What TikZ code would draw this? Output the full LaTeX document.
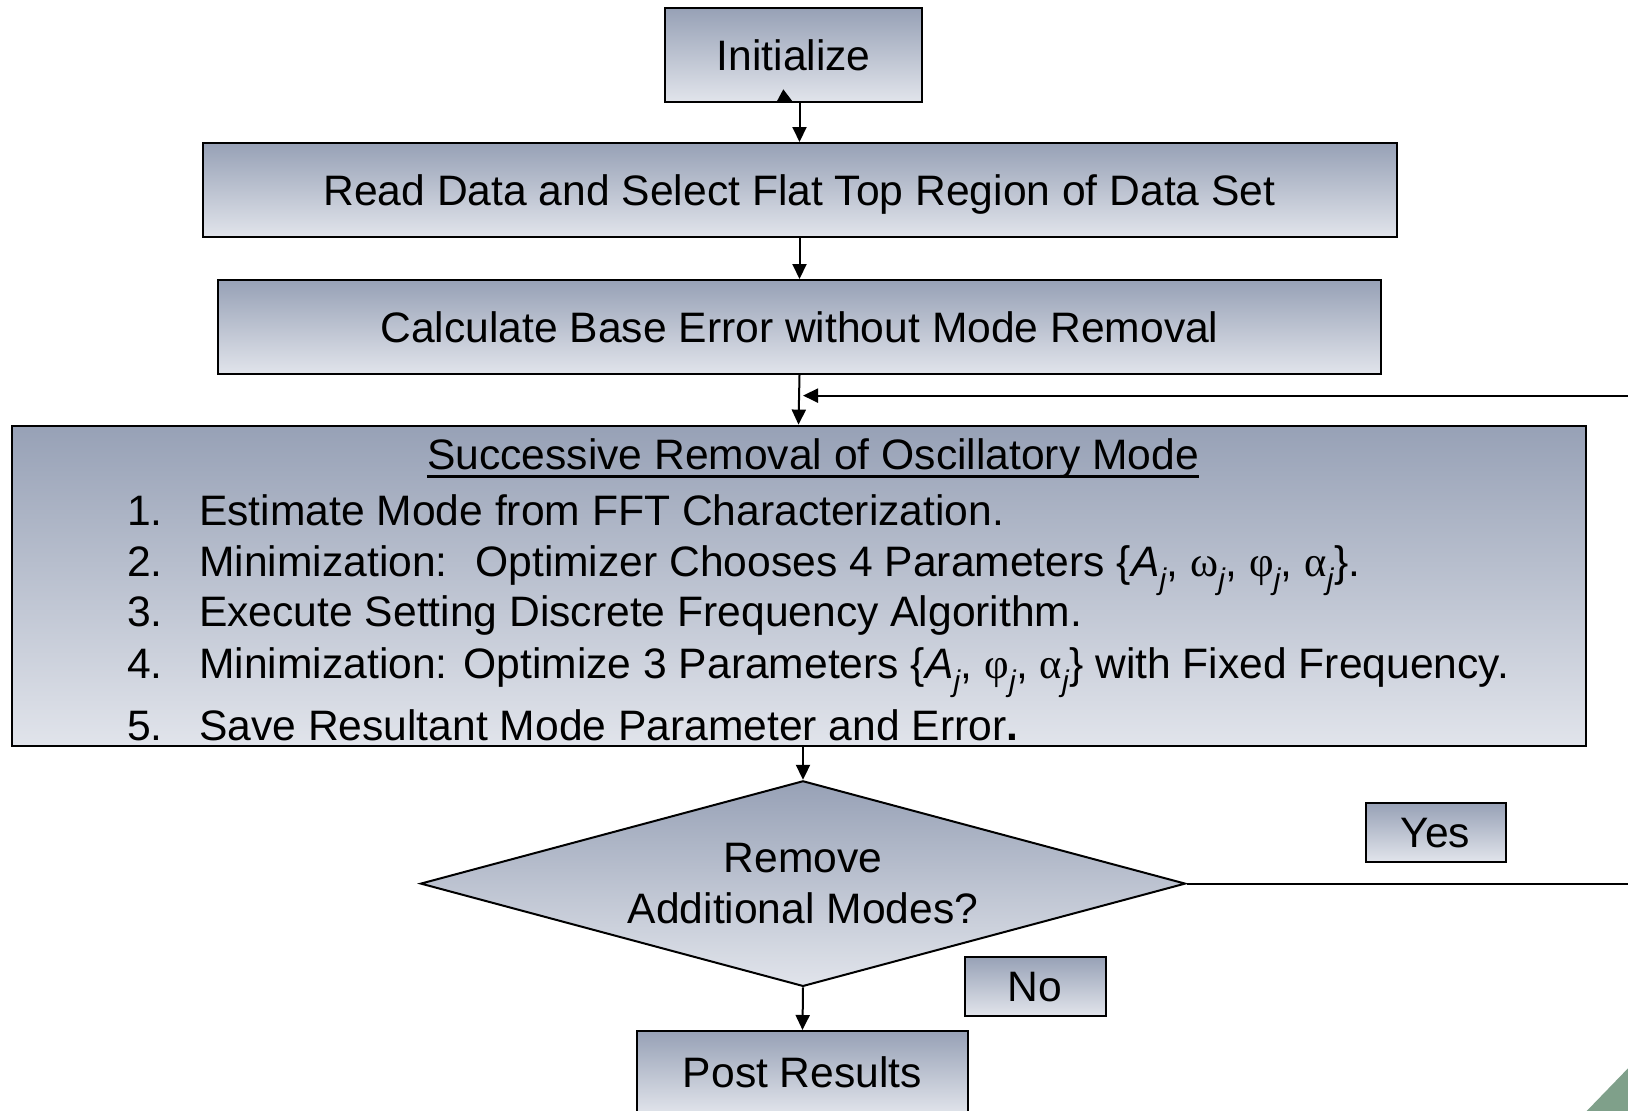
\documentclass[tikz,border=0pt]{standalone}
\usepackage{fontspec}
\setmainfont{Liberation Sans}
\newfontfamily\grk{Liberation Serif}
\usetikzlibrary{shapes.geometric,arrows.meta}
\definecolor{boxtop}{HTML}{97A1B6}
\definecolor{boxbot}{HTML}{E1E4EB}
\definecolor{corner}{HTML}{7FA08A}
\newcommand{\sj}{\textsubscript{\itshape j}}
\begin{document}
\begin{tikzpicture}[x=1pt,y=-1pt,
  box/.style={draw=black, line width=2pt, top color=boxtop, bottom color=boxbot, inner sep=0pt,
    font=\fontsize{42.6}{50.6}\selectfont, text height=30.5pt, text depth=0pt},
  diabox/.style={shape=diamond, draw=black, line width=2pt, top color=boxtop, bottom color=boxbot,
    inner sep=0pt, aspect=3.7, align=center, font=\fontsize{42.6}{50.6}\selectfont},
  arr/.style={line width=2pt, -{Triangle[length=15pt,width=14pt]}},
  plain/.style={line width=2pt},
  lbl/.style={font=\fontsize{42.6}{50.6}\selectfont, inner sep=0pt, anchor=base west}]
\useasboundingbox (0,0) rectangle (1628,1111);
\clip (0,0) rectangle (1628,1111);
% boxes
\node[box, minimum width=256.5pt, minimum height=93.4pt] (init) at (793.7,55) {Initialize};
\node[box, minimum width=1194pt, minimum height=94pt] (read) at (799.5,190) {Read Data and Select Flat Top Region of Data Set};
\node[box, minimum width=1163pt, minimum height=94pt] (calc) at (799.5,327) {Calculate Base Error without Mode Removal};
\node[box, minimum width=1574pt, minimum height=320pt] (main) at (798.5,585.6) {};
\node[diabox, minimum width=765pt, minimum height=205.6pt] (dia) at (803,883.6) {Remove\\Additional Modes?};
\node[box, minimum width=140pt, minimum height=59pt] (yes) at (1435.5,832.2) {Yes};
\node[box, minimum width=141pt, minimum height=59pt] (no) at (1035.2,986) {No};
\node[box, minimum width=331pt, minimum height=83pt] (post) at (802.5,1072.5) {Post Results};
% main box contents
\node[lbl, anchor=base] (title) at (813,469.3) {Successive Removal of Oscillatory Mode};
\draw[line width=2.5pt] ([yshift=-7pt]title.base west) -- ([yshift=-7pt]title.base east);
\node[lbl] (n1) at (127,525) {1.};
\node[lbl] (t1) at (199,525) {Estimate Mode from FFT Characterization.};
\node[lbl] (n2) at (127,576) {2.};
\node[lbl] (t2) at (199,576) {Minimization:~ Optimizer Chooses 4 Parameters \{{\itshape A}\sj, {\grk ω}\sj, {\grk φ}\sj, {\grk α}\sj\}.};
\node[lbl] (n3) at (127,626.7) {3.};
\node[lbl] (t3) at (199,626.7) {Execute Setting Discrete Frequency Algorithm.};
\node[lbl] (n4) at (127,678.3) {4.};
\node[lbl] (t4) at (199,678.3) {Minimization: Optimize 3 Parameters \{{\itshape A}\sj, {\grk φ}\sj, {\grk α}\sj\} with Fixed Frequency.};
\node[lbl] (n5) at (127,740) {5.};
\node[lbl] (t5) at (199,740) {Save Resultant Mode Parameter and Error{\bfseries .}};
% connectors
\fill (776.7,101.7) -- (783.3,89.3) -- (792.7,101.7) -- cycle;
\draw[arr] (init.south -| read.north) -- (read.north);
\draw[arr] (read.south) -- (calc.north);
\draw[arr] (calc.south) -- (main.north);
\coordinate (fbR) at (1628,395.6);
\coordinate (fbL) at (803,395.6);
\draw[arr] (fbR) -- (fbL);
\draw[arr] (main.south -| dia.north) -- (dia.north);
\draw[arr] (dia.south) -- (post.north);
\coordinate (exitR) at (1628,883.6);
\draw[plain] (dia.east) -- (exitR);
% corner decoration
\fill[corner] (1586.7,1111) -- (1628,1068.3) -- (1628,1111) -- cycle;
\end{tikzpicture}
\end{document}
